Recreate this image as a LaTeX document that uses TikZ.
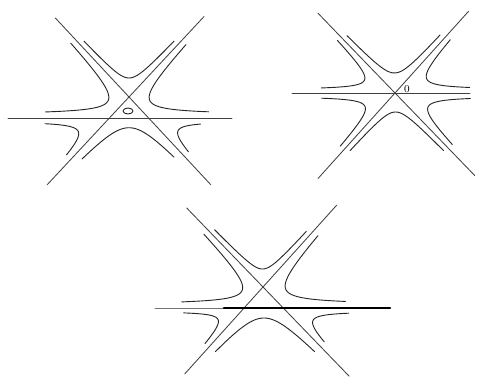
\documentclass[tikz,border=0pt]{standalone}
% Abstand der Hyperbelaeste von den Geraden
\newcommand{\spalt}{4}
% Hyperbelast: Zentrum (#1,#2), Asymptoten in Richtung #3 und #4, Groesse #5, Parameter von #6 bis #7
\newcommand{\hyp}[7]{%
  \draw[kurve] plot[domain={-ln((#5*exp(-(#6))-\spalt)/(#5-\spalt))}:{ln((#5*exp(#7)-\spalt)/(#5-\spalt))},
      samples=40, smooth, variable=\s]
    ({#1+((#5-\spalt)*exp(\s)+\spalt)*cos(#3)+((#5-\spalt)*exp(-\s)+\spalt)*cos(#4)},
     {#2+((#5-\spalt)*exp(\s)+\spalt)*sin(#3)+((#5-\spalt)*exp(-\s)+\spalt)*sin(#4)});}
\begin{document}
\begin{tikzpicture}[x=0.25mm, y=0.25mm, line join=round, line cap=round,
  linie/.style={line width=0.6pt, draw=black!75},
  kurve/.style={line width=0.65pt, draw=black!85}]
  \useasboundingbox (0,0) rectangle (477,376);
  % links oben: Dreieck mit Oval
  \begin{scope}[shift={(129,279)}]
    \draw[linie] (133:108) -- (-47:120);
    \draw[linie] (47:110) -- (227:120);
    \draw[linie] (-121,-21) -- (103,-21);
    \draw[kurve] (-1,-14) ellipse (5 and 3);
    \hyp{0}{0}{133}{47}{13}{-1.7}{1.7}
    \hyp{19.6}{-21}{133}{180}{24}{-1.4}{1.45}
    \hyp{-19.6}{-21}{0}{47}{24}{-1.43}{1.36}
    \hyp{-19.6}{-21}{180}{227}{18.5}{-1.0}{1.16}
    \hyp{0}{0}{227}{313}{21}{-1.26}{1.3}
    \hyp{19.6}{-21}{313}{0}{17.5}{-0.97}{0.97}
  \end{scope}
  % rechts oben: drei Geraden durch einen Punkt
  \begin{scope}[shift={(395,283)}]
    \draw[linie] (134:111) -- (-46:115);
    \draw[linie] (48:110) -- (228:115);
    \draw[linie] (-103,0) -- (75,0);
    \node[inner sep=0pt, font=\fontsize{7.5}{8}\selectfont] (null) at (12,4) {0};
    \hyp{0}{0}{134}{48}{13.7}{-1.67}{1.69}
    \hyp{0}{0}{134}{180}{18}{-1.34}{1.4}
    \hyp{0}{0}{0}{48}{19}{-1.33}{1.3}
    \hyp{0}{0}{180}{228}{18}{-1.38}{1.34}
    \hyp{0}{0}{228}{314}{13}{-1.75}{1.72}
    \hyp{0}{0}{314}{0}{19.5}{-1.28}{1.3}
  \end{scope}
  % unten: Dreieck ohne Oval, dicker Strahl
  \begin{scope}[shift={(263,89)}]
    \draw[linie] (134:110) -- (-46:124);
    \draw[linie] (48:110) -- (228:117);
    \draw[linie, draw=black!55] (-108,-21) -- (127,-21);
    \draw[line width=1.8pt] (-39,-21) -- (127,-21);
    \hyp{0}{0}{134}{48}{12.3}{-1.74}{1.8}
    \hyp{20.3}{-21}{134}{180}{24.3}{-1.37}{1.44}
    \hyp{-18.9}{-21}{0}{48}{25}{-1.36}{1.34}
    \hyp{-18.9}{-21}{180}{228}{15.6}{-1.12}{1.28}
    \hyp{0}{0}{228}{314}{21.2}{-1.35}{1.32}
    \hyp{20.3}{-21}{314}{0}{17.5}{-1.24}{0.99}
  \end{scope}
\end{tikzpicture}
\end{document}
